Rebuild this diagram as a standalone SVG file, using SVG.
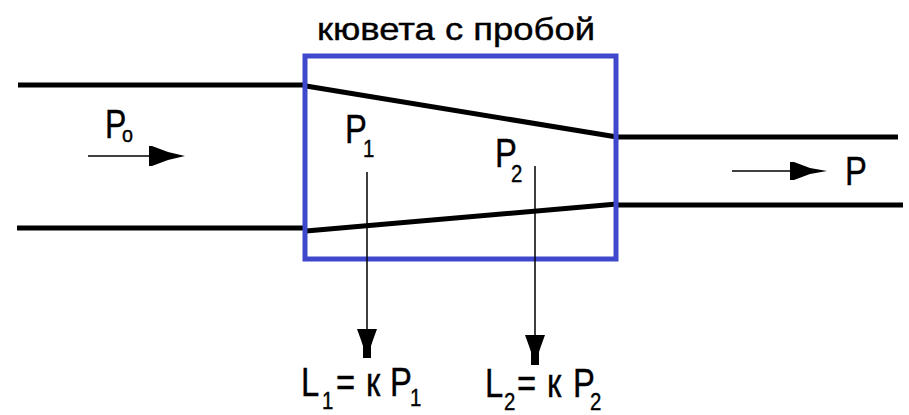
<svg xmlns="http://www.w3.org/2000/svg" width="909" height="415" viewBox="0 0 909 415">
<style>
.pipe{stroke:#000;stroke-width:5;fill:none;stroke-linecap:butt}
.thin{stroke:#000;stroke-width:1.5;fill:none}
.head{fill:#000}
.t{font-family:"Liberation Sans",Arial,sans-serif;fill:#000;stroke:#000;stroke-width:0.4}
.big{font-size:41px}
.sub{font-size:24px}
</style>
<rect width="909" height="415" fill="#fff"/>
<g id="title"><text class="t" x="317" y="40" font-size="32" textLength="278" lengthAdjust="spacingAndGlyphs">кювета с пробой</text></g>
<g id="pipes">
<line class="pipe" x1="18" y1="85" x2="306" y2="85"/>
<line class="pipe" x1="17" y1="228" x2="306" y2="228"/>
<line class="pipe" x1="306" y1="86" x2="617" y2="137"/>
<line class="pipe" x1="306" y1="231" x2="617" y2="204"/>
<line class="pipe" x1="615" y1="137" x2="898" y2="137"/>
<line class="pipe" x1="615" y1="205" x2="903" y2="205"/>
</g>
<g id="cuvette"><rect x="305" y="56" width="311" height="203" fill="none" stroke="#3f48cc" stroke-width="5"/></g>
<g id="connectors">
<line class="thin" x1="88" y1="156" x2="152" y2="156"/>
<polygon class="head" points="149,146 152,146 168,152 185,156 168,160 152,166 149,166"/>
<line class="thin" x1="732" y1="171" x2="792" y2="171"/>
<polygon class="head" points="790,162 794,162 810,168 827,171 810,174 794,180 790,180"/>
<line class="thin" x1="367" y1="172" x2="367" y2="332"/>
<polygon class="head" points="357,329 377,329 373,340 371,346 371,358 363,358 363,346 361,340"/>
<line class="thin" x1="535" y1="166" x2="535" y2="338"/>
<polygon class="head" points="525,335 545,335 541,346 539,352 539,365 531,365 531,352 529,346"/>
</g>
<g id="labels">
<g id="P0"><text class="t big" transform="translate(105,138) scale(0.78,1)">P</text><text class="t" font-size="22" transform="translate(122,142) scale(0.9,1)">o</text></g>
<g id="P1"><text class="t big" transform="translate(345,143) scale(0.8,1)">P</text><text class="t sub" transform="translate(363,157) scale(0.85,1)">1</text></g>
<g id="P2"><text class="t big" transform="translate(495,167) scale(0.8,1)">P</text><text class="t sub" transform="translate(511,182) scale(0.85,1)">2</text></g>
<g id="P"><text class="t big" transform="translate(845,185) scale(0.8,1)">P</text></g>
<g id="L1"><text class="t big" transform="translate(301,396) scale(0.8,1)">L</text><text class="t sub" transform="translate(322,409) scale(0.85,1)">1</text><text class="t big" transform="translate(336,396) scale(0.8,1)">=</text><text class="t big" transform="translate(366,396) scale(0.8,1)">к</text><text class="t big" transform="translate(390,396) scale(0.8,1)">P</text><text class="t sub" transform="translate(410,406) scale(0.85,1)">1</text></g>
<g id="L2"><text class="t big" transform="translate(485,397) scale(0.8,1)">L</text><text class="t sub" transform="translate(504,410) scale(0.85,1)">2</text><text class="t big" transform="translate(517,397) scale(0.8,1)">=</text><text class="t big" transform="translate(547,397) scale(0.8,1)">к</text><text class="t big" transform="translate(573,397) scale(0.8,1)">P</text><text class="t sub" transform="translate(590,410) scale(0.85,1)">2</text></g>
</g>
</svg>
